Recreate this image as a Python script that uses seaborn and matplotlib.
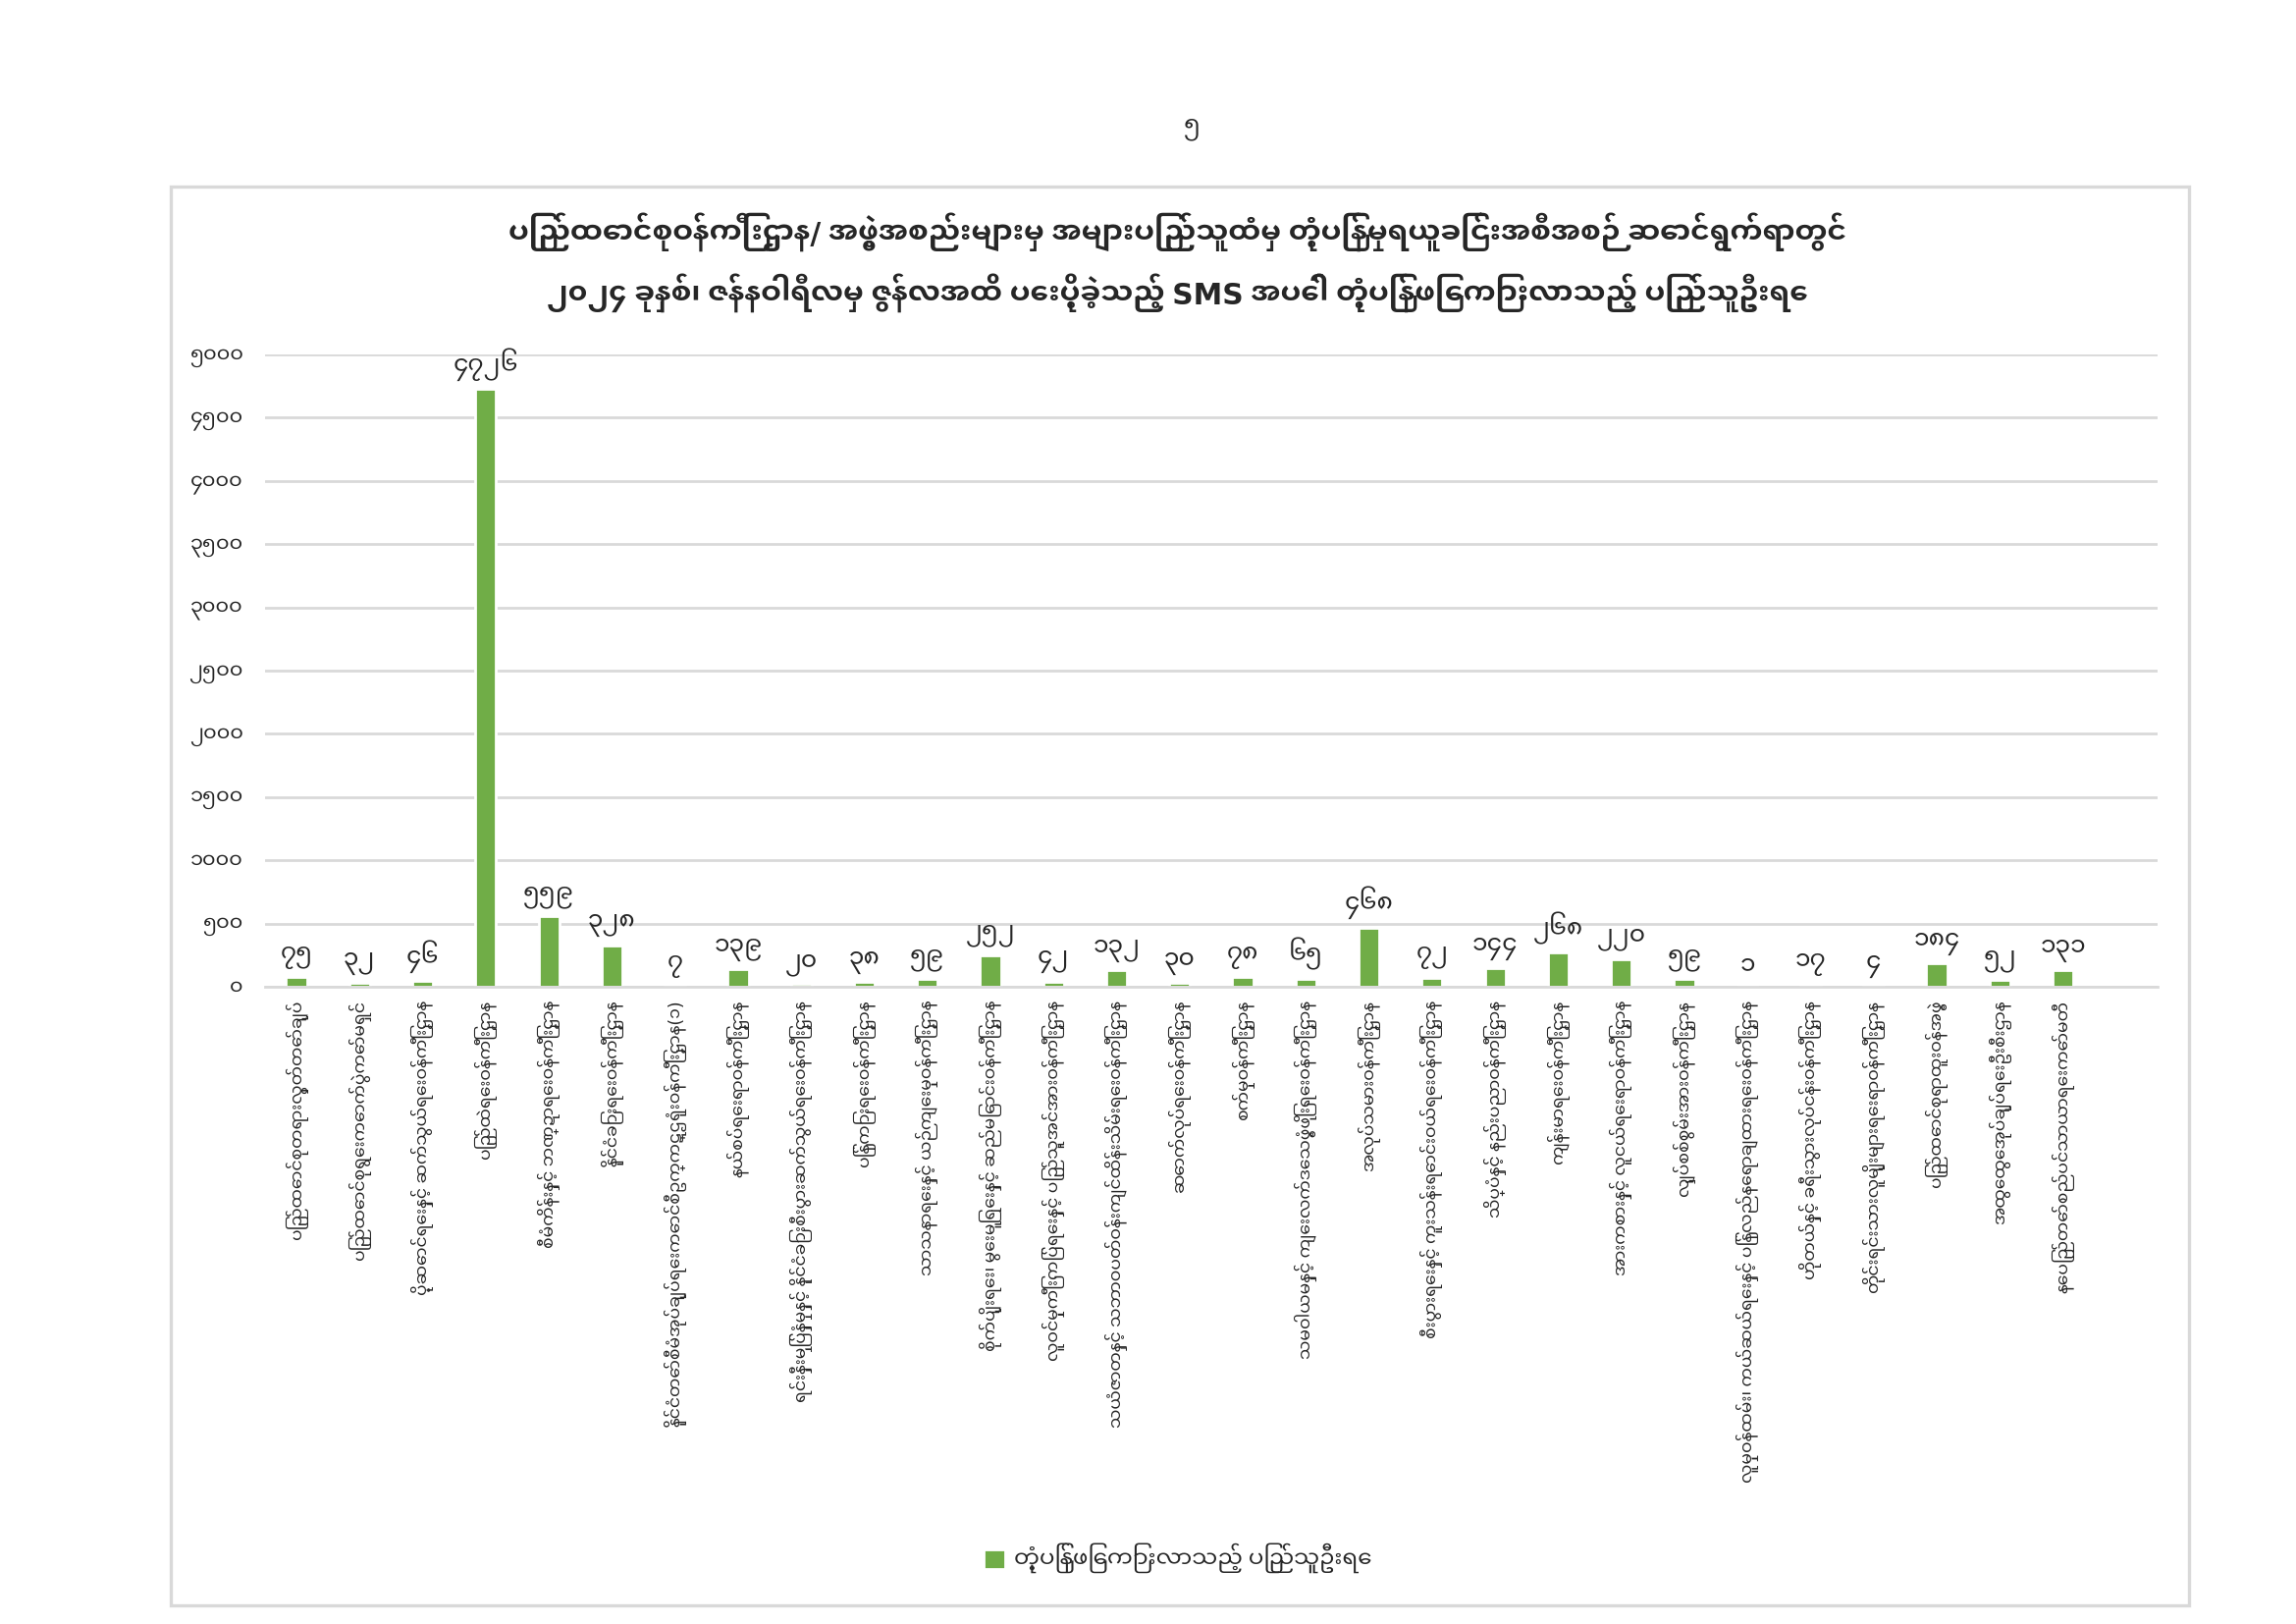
"""
SMS public feedback chart - responses by ministry (Jan-Jun 2024)
"""

import numpy as np
import pandas as pd
import matplotlib
matplotlib.use('Agg')
import matplotlib.pyplot as plt
from matplotlib.patches import Rectangle
import seaborn as sns

# ============================================
# DATA
# ============================================

ministries = [
    'ပြည်ထောင်စုတရားလွှတ်တော်ချုပ်',
    'ပြည်ထောင်စုရွေးကောက်ပွဲကော်မရှင်',
    'ပို့ဆောင်ရေးနှင့် ဆက်သွယ်ရေးဝန်ကြီးဌာန',
    'ပြည်ထဲရေးဝန်ကြီးဌာန',
    'စီမံကိန်းနှင့် ဘဏ္ဍာရေးဝန်ကြီးဌာန',
    'နိုင်ငံခြားရေးဝန်ကြီးဌာန',
    'နိုင်ငံတော်စီမံအုပ်ချုပ်ရေးကောင်စီဥက္ကဋ္ဌရုံးဝန်ကြီးဌာန(၁)',
    'နယ်စပ်ရေးရာဝန်ကြီးဌာန',
    'ရင်းနှီးမြှုပ်နှံမှုနှင့် နိုင်ငံခြားစီးပွားဆက်သွယ်ရေးဝန်ကြီးဌာန',
    'ပြန်ကြားရေးဝန်ကြီးဌာန',
    'သာသနာရေးနှင့် ယဉ်ကျေးမှုဝန်ကြီးဌာန',
    'စိုက်ပျိုးရေး၊ မွေးမြူရေးနှင့် ဆည်မြောင်းဝန်ကြီးဌာန',
    'လူဝင်မှုကြီးကြပ်ရေးနှင့် ပြည်သူ့အင်အားဝန်ကြီးဌာန',
    'သယံဇာတနှင့် သဘာဝပတ်ဝန်းကျင်ထိန်းသိမ်းရေးဝန်ကြီးဌာန',
    'ဆောက်လုပ်ရေးဝန်ကြီးဌာန',
    'စက်မှုဝန်ကြီးဌာန',
    'သမဝါယမနှင့် ကျေးလက်ဒေသဖွံ့ဖြိုးရေးဝန်ကြီးဌာန',
    'အလုပ်သမားဝန်ကြီးဌာန',
    'စီးပွားရေးနှင့် ကူးသန်းရောင်းဝယ်ရေးဝန်ကြီးဌာန',
    'သိပ္ပံနှင့် နည်းပညာဝန်ကြီးဌာန',
    'ကျန်းမာရေးဝန်ကြီးဌာန',
    'အားကစားနှင့် လူငယ်ရေးရာဝန်ကြီးဌာန',
    'လျှပ်စစ်စွမ်းအားဝန်ကြီးဌာန',
    'လူမှုဝန်ထမ်း၊ ကယ်ဆယ်ရေးနှင့် ပြန်လည်နေရာချထားရေးဝန်ကြီးဌာန',
    'ဟိုတယ်နှင့် ခရီးသွားလုပ်ငန်းဝန်ကြီးဌာန',
    'တိုင်းရင်းသားလူမျိုးများရေးရာဝန်ကြီးဌာန',
    'ပြည်ထောင်စုရာထူးဝန်အဖွဲ့',
    'အထွေထွေအုပ်ချုပ်ရေးဦးစီးဌာန',
    'နေပြည်တော်စည်ပင်သာယာရေးကော်မတီ',
]

responses = [75, 32, 46, 4726, 559, 328, 7, 139, 20, 38, 59, 252, 42, 132, 30,
             78, 65, 468, 72, 144, 268, 220, 59, 1, 17, 4, 184, 52, 131]

y_ticks = list(range(0, 5001, 500))

title_line1 = 'ပြည်ထောင်စုဝန်ကြီးဌာန/ အဖွဲ့အစည်းများမှ အများပြည်သူထံမှ တုံ့ပြန်မှုရယူခြင်းအစီအစဉ် ဆောင်ရွက်ရာတွင်'
title_line2 = '၂၀၂၄ ခုနှစ်၊ ဇန်နဝါရီလမှ ဇွန်လအထိ ပေးပို့ခဲ့သည့် SMS အပေါ် တုံ့ပြန်ဖြေကြားလာသည့် ပြည်သူဦးရေ'
legend_label = 'တုံ့ပြန်ဖြေကြားလာသည့် ပြည်သူဦးရေ'
page_number = '၅'

# ============================================
# STYLE
# ============================================

sns.set_theme(style='white')
# Myanmar glyphs come from Noto Sans Myanmar UI, latin falls back to DejaVu
plt.rcParams['font.family'] = ['Noto Sans Myanmar UI', 'DejaVu Sans']

MM_DIGITS = str.maketrans('0123456789', '၀၁၂၃၄၅၆၇၈၉')

def to_mm(n):
    return str(n).translate(MM_DIGITS)

# ============================================
# PLOT
# ============================================

df = pd.DataFrame({'ministry': ministries, 'responses': responses})

fig = plt.figure(figsize=(11.695, 8.27), dpi=200)
fig.patch.set_facecolor('white')
ax = fig.add_axes([0.1154, 0.3924, 0.8243, 0.3893])

sns.barplot(data=df, x='ministry', y='responses', color='#70AD47',
            width=0.33, saturation=1, label=legend_label, ax=ax)

ax.set_xlim(-0.5, 29.5)
ax.set_ylim(0, 5000)
ax.set_yticks(y_ticks)
ax.set_yticklabels([to_mm(t) for t in y_ticks], fontsize=7.5)
ax.set_xticks(range(len(ministries)))
ax.set_xticklabels(ministries, rotation=90, fontsize=6.2, va='top', ha='center')
ax.tick_params(axis='y', length=0, pad=8)
ax.tick_params(axis='x', length=0, pad=5)
ax.set_xlabel('')
ax.set_ylabel('')

ax.grid(axis='y', color='#D9D9D9', linewidth=1)
ax.set_axisbelow(True)
for side in ['top', 'right', 'left']:
    ax.spines[side].set_visible(False)
ax.spines['bottom'].set_color('#D9D9D9')
ax.spines['bottom'].set_linewidth(1)

ax.bar_label(ax.containers[0], labels=[to_mm(v) for v in responses],
             padding=3, fontsize=9)

# titles and page number
fig.text(0.519, 0.921, page_number, ha='center', va='center', fontsize=9)
fig.text(0.513, 0.857, title_line1, ha='center', va='center', fontsize=10.7, fontweight='bold')
fig.text(0.513, 0.820, title_line2, ha='center', va='center', fontsize=10.7, fontweight='bold')

# legend
handles, labels = ax.get_legend_handles_labels()
if ax.get_legend():
    ax.get_legend().remove()
fig.legend(handles, labels, loc='center', bbox_to_anchor=(0.513, 0.0405),
           frameon=False, fontsize=8.3, handlelength=0.95, handleheight=0.95,
           handletextpad=0.4)

# chart border
fig.patches.append(Rectangle((0.0744, 0.0115), 0.879, 0.8736, transform=fig.transFigure,
                             fill=False, edgecolor='#D9D9D9', linewidth=1.2))

plt.savefig('out.png', dpi=200)
plt.close()
